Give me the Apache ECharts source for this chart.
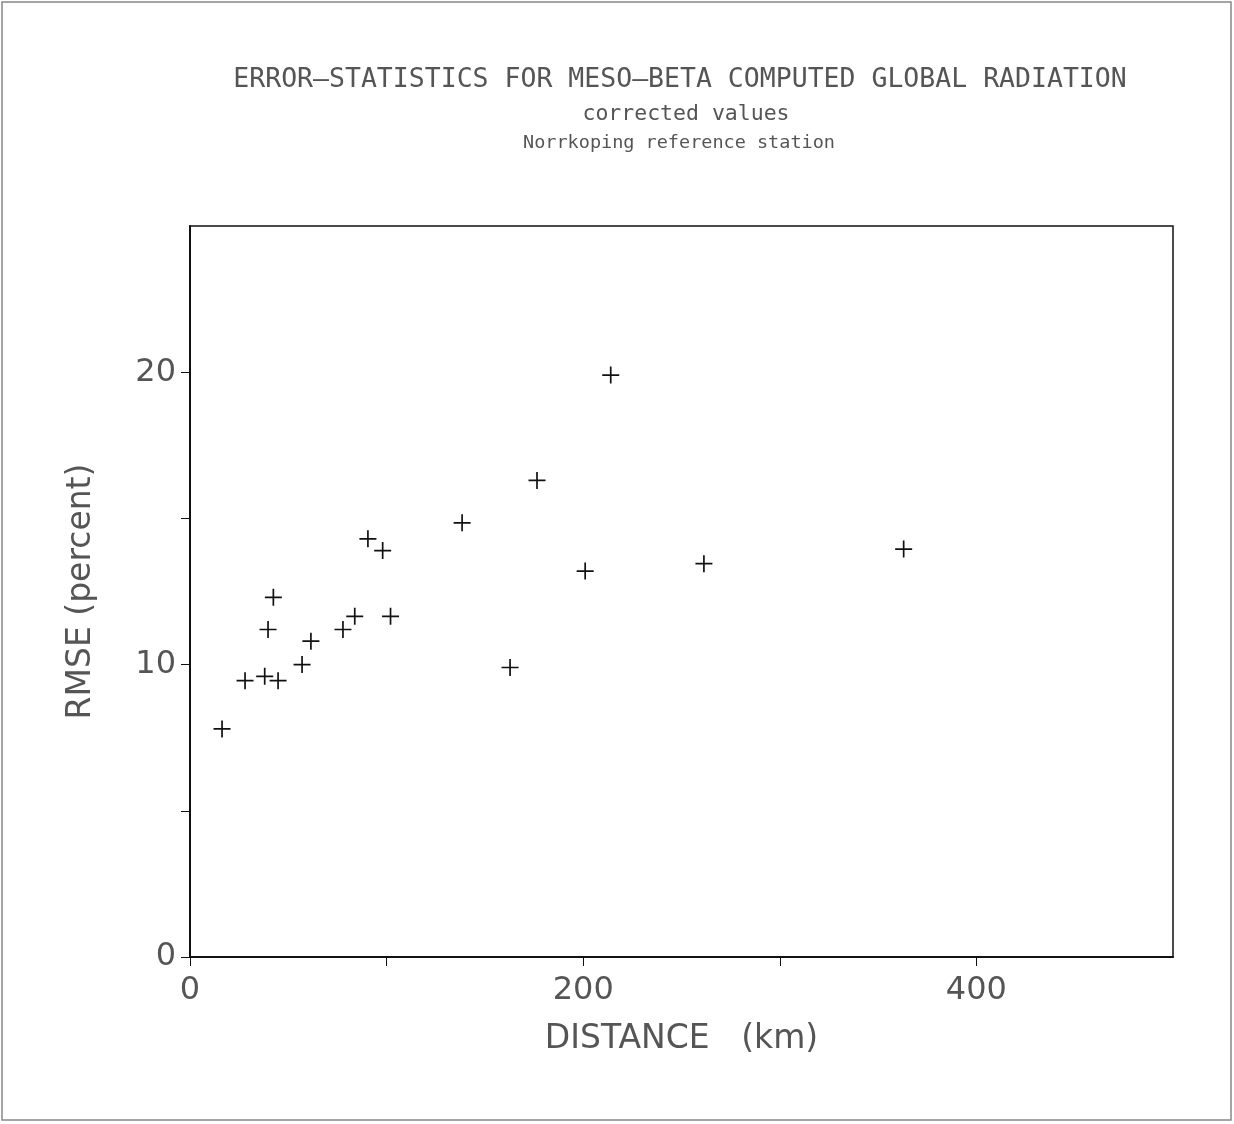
<!DOCTYPE html>
<html>
<head>
<meta charset="utf-8">
<script src="https://cdn.jsdelivr.net/npm/echarts@6/dist/echarts.min.js"></script>
<style>
html,body{margin:0;padding:0;background:#fff;}
#chart{width:1234px;height:1124px;}
</style>
</head>
<body>
<div id="chart"></div>
<script>
const titleLines = ["ERROR\u2013STATISTICS FOR MESO\u2013BETA COMPUTED GLOBAL RADIATION", "corrected values", "Norrkoping reference station"];
const xAxisName = "DISTANCE   (km)";
const yAxisName = "RMSE (percent)";
const distanceKm = [16.3, 28, 38, 44.8, 39.7, 42.4, 57, 61.5, 77.8, 83.8, 90.5, 98, 102, 138.4, 162.8, 176.5, 201, 214, 261.4, 363];
const rmsePercent = [7.8, 9.45, 9.6, 9.45, 11.2, 12.3, 10.0, 10.8, 11.2, 11.65, 14.3, 13.9, 11.65, 14.85, 9.9, 16.3, 13.2, 19.9, 13.45, 13.95];
const xTickValues = [0, 100, 200, 300, 400];
const xLabelValues = [0, 200, 400];
const yTickValues = [0, 5, 10, 15, 20];
const yLabelValues = [0, 10, 20];
const xRange = [0, 500];
const yRange = [0, 25];

const points = distanceKm.map((d, i) => [d, rmsePercent[i]]);
const textColor = '#555';
const mono = "'DejaVu Sans Mono','Liberation Mono',monospace";
const fontFam = "'DejaVu Sans',sans-serif";

const chart = echarts.init(document.getElementById('chart'), null, {renderer: 'canvas'});
chart.setOption({
  animation: false,
  backgroundColor: '#fff',
  graphic: [
    {type: 'rect', shape: {x: 2, y: 2, width: 1229, height: 1118}, style: {fill: 'none', stroke: '#888', lineWidth: 1.5}},
    {type: 'text', x: 680, y: 80, style: {text: titleLines[0], font: "normal 26.5px " + mono, fill: textColor, textAlign: 'center', textVerticalAlign: 'middle'}},
    {type: 'text', x: 686, y: 114, style: {text: titleLines[1], font: "normal 21.5px " + mono, fill: textColor, textAlign: 'center', textVerticalAlign: 'middle'}},
    {type: 'text', x: 679, y: 143, style: {text: titleLines[2], font: "normal 18.5px " + mono, fill: textColor, textAlign: 'center', textVerticalAlign: 'middle'}}
  ],
  grid: {left: 190, top: 226, width: 983, height: 731, show: true, borderColor: '#111', borderWidth: 1.5, backgroundColor: 'transparent'},
  xAxis: {
    type: 'value', min: xRange[0], max: xRange[1], interval: 100,
    name: xAxisName, nameLocation: 'middle', nameGap: 66,
    nameTextStyle: {fontFamily: fontFam, fontSize: 33, color: textColor},
    axisLine: {show: true, onZero: false, lineStyle: {color: '#111', width: 2}},
    axisTick: {show: true, inside: false, length: 9, customValues: xTickValues, lineStyle: {color: '#111', width: 1}},
    axisLabel: {customValues: xLabelValues, margin: 18, fontFamily: fontFam, fontSize: 32, color: textColor},
    splitLine: {show: false}
  },
  yAxis: {
    type: 'value', min: yRange[0], max: yRange[1], interval: 5,
    name: yAxisName, nameLocation: 'middle', nameGap: 92, nameRotate: 90,
    nameTextStyle: {fontFamily: fontFam, fontSize: 33, color: textColor},
    axisLine: {show: true, onZero: false, lineStyle: {color: '#111', width: 2}},
    axisTick: {show: true, inside: false, length: 9, customValues: yTickValues, lineStyle: {color: '#111', width: 1}},
    axisLabel: {customValues: yLabelValues, margin: 14, fontFamily: fontFam, fontSize: 32, color: textColor},
    splitLine: {show: false}
  },
  series: [{
    type: 'scatter',
    data: points,
    symbol: 'path://M9,0h2v20h-2z M0,9h20v2h-20z',
    symbolSize: 17,
    itemStyle: {color: '#111', opacity: 1}
  }]
});
</script>
</body>
</html>
